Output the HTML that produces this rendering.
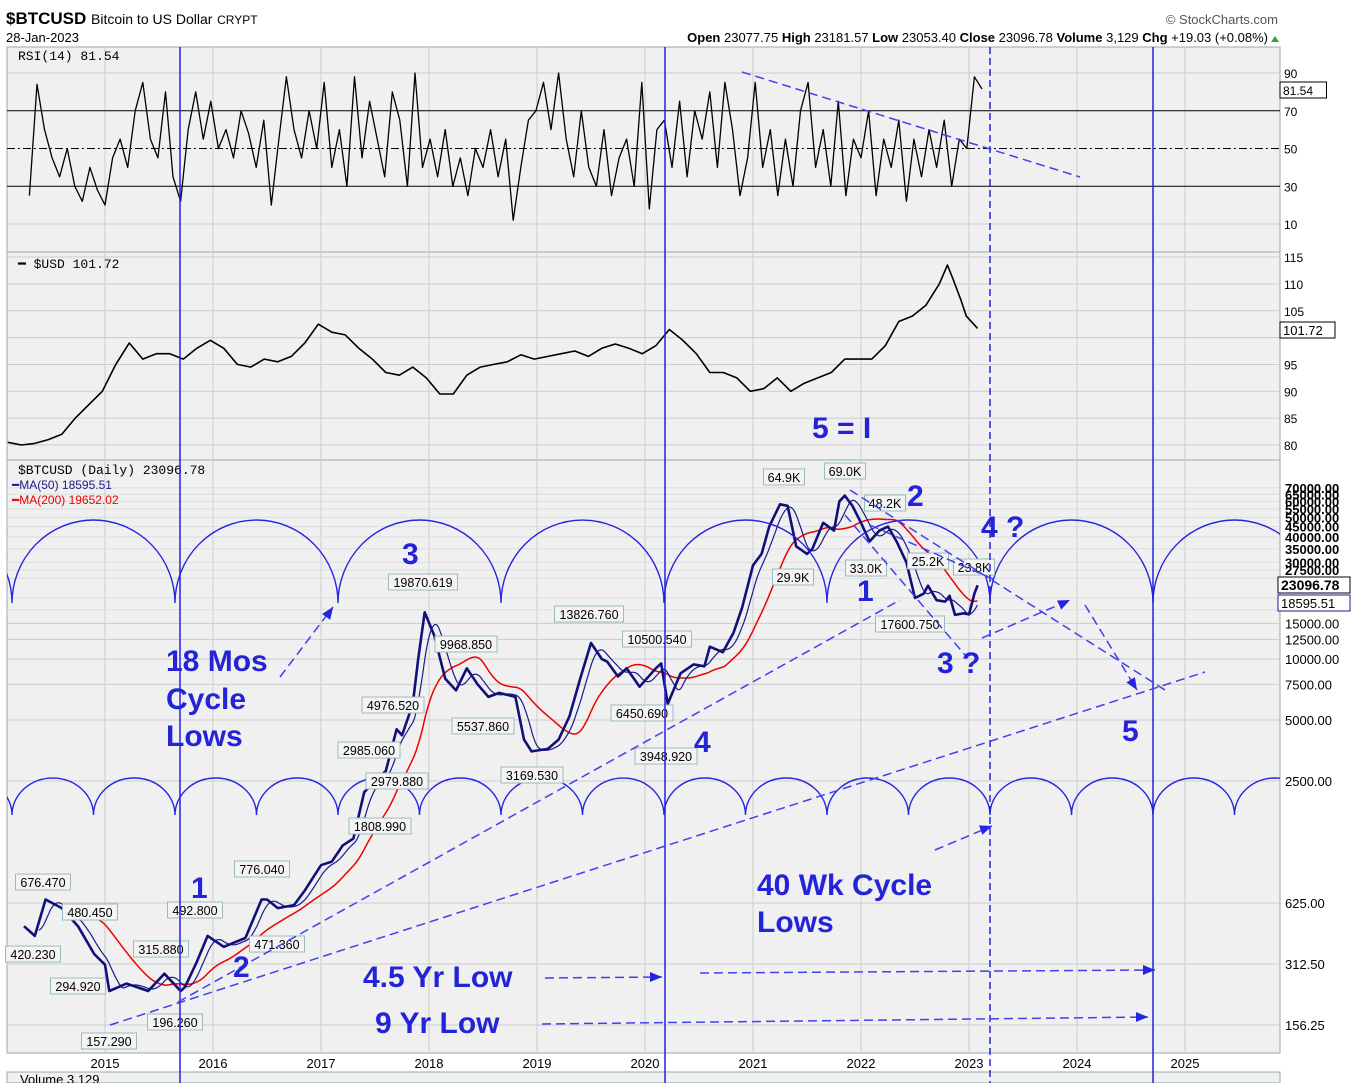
<!DOCTYPE html>
<html><head><meta charset="utf-8">
<style>
body{margin:0;background:#fff;font-family:"Liberation Sans",sans-serif;}
svg{display:block}
</style></head>
<body>
<svg id="c" width="1361" height="1083" xmlns="http://www.w3.org/2000/svg" font-family="Liberation Sans, sans-serif">
<defs><clipPath id="plotclip"><rect x="7" y="460" width="1273" height="593"/></clipPath></defs>
<rect x="0" y="0" width="1361" height="1083" fill="#fff"/>
<text x="6" y="24" font-size="17" font-weight="bold">$BTCUSD <tspan font-size="14" font-weight="normal">Bitcoin to US Dollar</tspan> <tspan font-size="12" font-weight="normal">CRYPT</tspan></text>
<text x="6" y="42" font-size="13">28-Jan-2023</text>
<text x="1278" y="24" font-size="13" fill="#555" text-anchor="end">© StockCharts.com</text>
<text x="1268" y="42" font-size="13" text-anchor="end"><tspan font-weight="bold">Open</tspan> 23077.75 <tspan font-weight="bold">High</tspan> 23181.57 <tspan font-weight="bold">Low</tspan> 23053.40 <tspan font-weight="bold">Close</tspan> 23096.78 <tspan font-weight="bold">Volume</tspan> 3,129 <tspan font-weight="bold">Chg</tspan> +19.03 (+0.08%)</text>
<polygon points="1271,42 1279,42 1275,36" fill="#2a2"/>
<g id="panels"></g>
<g id="marks"></g>
<g id="arcs" clip-path="url(#plotclip)"></g>
<g id="anno"></g>
</svg>
<script>
const NS='http://www.w3.org/2000/svg';
// ---- data ----
const yearTicks=['2015','2016','2017','2018','2019','2020','2021','2022','2023','2024','2025'];
const rsiTicks=[90,70,50,30,10];
const usdTicks=[115,110,105,100,95,90,85,80];
const btcTicks=[156.25,312.5,625,2500,5000,7500,10000,12500,15000];
const rsiStart=2014.3, rsiStep=0.07;
const rsiValues=[25,84,60,45,35,50,30,22,40,28,20,45,55,40,70,85,55,45,80,35,22,60,80,55,75,50,60,45,70,58,40,65,20,55,88,60,45,70,50,85,40,60,30,88,45,75,55,35,80,65,30,90,40,55,35,60,30,45,25,50,40,60,35,55,12,40,65,70,85,60,90,55,35,70,40,30,60,25,45,55,30,85,18,60,65,40,75,35,70,55,80,40,85,60,25,45,85,40,60,25,55,30,70,85,40,60,30,75,25,55,45,70,25,55,40,65,22,55,35,60,40,65,30,55,50,88,81.54];
const usdDates=[2014.1,2014.225,2014.35,2014.475,2014.6,2014.725,2014.85,2014.975,2015.1,2015.225,2015.35,2015.475,2015.6,2015.725,2015.85,2015.975,2016.1,2016.225,2016.35,2016.475,2016.6,2016.725,2016.85,2016.975,2017.1,2017.225,2017.35,2017.475,2017.6,2017.725,2017.85,2017.975,2018.1,2018.225,2018.35,2018.475,2018.6,2018.725,2018.85,2018.975,2019.1,2019.225,2019.35,2019.475,2019.6,2019.725,2019.85,2019.975,2020.1,2020.225,2020.35,2020.475,2020.6,2020.725,2020.85,2020.975,2021.1,2021.225,2021.35,2021.475,2021.6,2021.725,2021.85,2021.975,2022.1,2022.225,2022.35,2022.475,2022.6,2022.725,2022.8,2022.85,2022.925,2022.975,2023.08];
const usdValues=[80.5,80,80.3,81,82,85,87.5,90,95,99,96,97,97,96,98,99.5,98,95,94.5,96,95.5,96.5,99,102.5,101,100.5,98,96,93.5,93,94.5,92.5,89.5,89.5,93,94.5,95,95.5,96.8,96,96.5,97,97.5,96.5,98,98.8,98,97,98.5,101.5,99.5,97,93.5,93.5,92.5,90,90.5,92.5,90,91.5,92.5,93.5,96,96,96,98.5,103,104,106,110,113.5,111,107,104,101.72];
const btcDates=[2014.25,2014.35,2014.45,2014.6,2014.75,2014.9,2015.0,2015.04,2015.2,2015.4,2015.55,2015.7,2015.74,2015.85,2015.95,2016.1,2016.3,2016.45,2016.5,2016.6,2016.75,2016.85,2017.0,2017.1,2017.2,2017.3,2017.4,2017.5,2017.6,2017.7,2017.75,2017.85,2017.9,2017.96,2018.05,2018.15,2018.25,2018.35,2018.45,2018.55,2018.65,2018.8,2018.88,2018.95,2019.1,2019.2,2019.3,2019.4,2019.5,2019.6,2019.65,2019.75,2019.83,2019.95,2020.1,2020.15,2020.21,2020.33,2020.45,2020.55,2020.6,2020.72,2020.82,2020.9,2021.0,2021.08,2021.15,2021.25,2021.32,2021.4,2021.5,2021.55,2021.65,2021.75,2021.8,2021.85,2021.92,2022.0,2022.08,2022.17,2022.25,2022.33,2022.42,2022.5,2022.58,2022.62,2022.7,2022.78,2022.82,2022.87,2022.95,2023.0,2023.05,2023.08];
const btcValues=[480,430,650,590,480,350,310,230,250,230,280,230,240,320,430,380,420,650,650,590,610,720,960,1000,1200,1300,2200,2500,2800,4500,4200,6000,10000,17000,13000,8000,7000,9000,7500,6500,6800,6500,4000,3500,3600,4000,5200,8000,12000,10000,9700,8200,9000,7300,9000,9500,6000,8500,9400,9200,11500,10800,13500,18000,29000,33000,45000,58000,57000,36000,33000,35000,47000,43000,60000,64000,57000,47000,38000,43000,45000,38000,30000,20000,21000,23000,19500,19200,20500,16500,16800,16600,21000,23096.78];
const calloutText=['676.470','480.450','420.230','294.920','157.290','196.260','315.880','492.800','776.040','471.360','1808.990','2979.880','2985.060','4976.520','19870.619','9968.850','5537.860','3169.530','13826.760','10500.540','6450.690','3948.920','64.9K','69.0K','48.2K','29.9K','33.0K','25.2K','23.8K','17600.750'];
const calloutPos=[[43,882],[90,912],[33,954],[78,986],[109,1041],[175,1022],[161,949],[195,910],[262,869],[277,944],[380,826],[397,781],[369,750],[393,705],[423,582],[466,644],[483,726],[532,775],[589,614],[657,639],[642,713],[666,756],[784,477],[845,471],[885,503],[793,577],[866,568],[928,561],[974,567],[910,624]];
// ---- scales ----
const L=7,R=1280;
const X=t=>105+108*(t-2015);
const yR=v=>224-(v-10)*1.8875;
const yU=v=>445-(v-80)*5.37;
const yB=v=>1025-61*Math.log2(v/156.25);
function el(tag,attrs,parent){const e=document.createElementNS(NS,tag);for(const k in attrs)e.setAttribute(k,attrs[k]);(parent||document.getElementById('marks')).appendChild(e);return e;}
const P=document.getElementById('panels'),M=document.getElementById('marks'),A=document.getElementById('anno'),AR=document.getElementById('arcs');
const panels=[[47,252],[252,460],[460,1053],[1072,1083]];
panels.forEach((p,i)=>{const r=el('rect',{x:L,y:p[0],width:R-L,height:p[1]-p[0],fill:'#f0f0f0',stroke:'#9aa',"stroke-width":1},P);

});
yearTicks.forEach((y,i)=>{const x=X(2015+i);
 el('line',{x1:x,x2:x,y1:47,y2:1053,stroke:'#ccc'},P);
 const t=el('text',{x:x,y:1068,"font-size":13,"text-anchor":"middle"},P);t.textContent=y;
 
 });
rsiTicks.forEach(v=>{const y=yR(v);
 el('line',{x1:L,x2:R,y1:y,y2:y,stroke:(v==70||v==30||v==50)?'#000':'#ccc',"stroke-dasharray":v==50?'8,3,2,3':'none'},P);
 const t=el('text',{x:1284,y:y+5,"font-size":12},P);t.textContent=v;
 
 });
usdTicks.forEach(v=>{const y=yU(v);el('line',{x1:L,x2:R,y1:y,y2:y,stroke:'#ccc'},P);
 if(v==100)return;const t=el('text',{x:1284,y:y+5,"font-size":12},P);t.textContent=v;
 
 });
btcTicks.forEach(v=>{const y=yB(v);el('line',{x1:L,x2:R,y1:y,y2:y,stroke:'#ccc'},P);
 const t=el('text',{x:1285,y:y+5,"font-size":13},P);t.textContent=v.toFixed(2);
 
 });
[17500,20000,25000,27500,30000,35000,40000,45000,50000,55000,60000,65000,70000].forEach((v,i)=>{const y=yB(v);el('line',{x1:L,x2:R,y1:y,y2:y,stroke:'#ddd'},P);
 if(v>=27500){const t=el('text',{x:1285,y:y+5,"font-size":13,"font-weight":"bold"},P);t.textContent=v.toFixed(2);
 
 }});
[[12,60,'RSI(14) 81.54'],[12,268,'━ $USD 101.72'],[12,474,'$BTCUSD (Daily) 23096.78']].forEach(a=>{const t=el('text',{x:a[0]+6,y:a[1],"font-size":13,"font-family":"Liberation Mono, monospace"},P);t.textContent=a[2];
 
 });
let t1=el('text',{x:12,y:489,"font-size":12,fill:'#1a1a8c'},P);t1.textContent='━MA(50) 18595.51';


let t2=el('text',{x:12,y:504,"font-size":12,fill:'#e00'},P);t2.textContent='━MA(200) 19652.02';


let t3=el('text',{x:20,y:1084,"font-size":13},P);t3.textContent='Volume 3,129';


function line(xs,ys,stroke,w,name){const d=xs.map((x,i)=>(i?'L':'M')+x.toFixed(1)+','+ys[i].toFixed(1)).join('');const p=el('path',{d:d,fill:'none',stroke:stroke,"stroke-width":w,"stroke-linejoin":"round"});
 
 return p;}
line(rsiValues.map((v,i)=>X(rsiStart+i*rsiStep)),rsiValues.map(yR),'#000',1.3,'rsi-line');
line(usdDates.map(X),usdValues.map(yU),'#000',1.6,'usd-line');
function interp(t){for(let i=1;i<btcDates.length;i++){if(t<=btcDates[i]){const f=(t-btcDates[i-1])/(btcDates[i]-btcDates[i-1]);return btcValues[i-1]+f*(btcValues[i]-btcValues[i-1]);}}return btcValues[btcValues.length-1];}
const days=[];for(let t=btcDates[0];t<=btcDates[btcDates.length-1]+1e-9;t+=1/365)days.push(t);
const dv=days.map(interp);
function ma(n){const xs=[],ys=[];for(let i=n;i<dv.length;i++){let s=0;for(let j=i-n;j<i;j++)s+=dv[j];xs.push(X(days[i]));ys.push(yB(s/n));}return [xs,ys];}
const m200=ma(200),m50=ma(50);
line(m200[0],m200[1],'#e00',1.5,'ma200-line');
line(m50[0],m50[1],'#1a1a8c',1.2,'ma50-line');
line(btcDates.map(X),btcValues.map(yB),'#10107a',2.6,'btc-price-line');
calloutText.forEach((s,i)=>{const [cx,cy]=calloutPos[i];const w=s.length*7+6;
 const r=el('rect',{x:cx-w/2,y:cy-8,width:w,height:16,fill:'#f4f4f4',stroke:'#9bb'},A);
 
 
 const t=el('text',{x:cx,y:cy+5,"font-size":12.5,"text-anchor":"middle"},A);t.textContent=s;
 
 });
[[1280,90,'81.54',12,'#000'],[1280,330,'101.72',13,'#000'],[1278,585,'23096.78',14,'#000'],[1278,603,'18595.51',13,'#1a1a8c']].forEach(a=>{
 const r=el('rect',{x:a[0],y:a[1]-8,width:a[2].length*8.5+4,height:16,fill:'#fff',stroke:a[4]},A);
 
 
 const t=el('text',{x:a[0]+3,y:a[1]+5,"font-size":a[3],"font-weight":a[3]>13?'bold':'normal'},A);t.textContent=a[2];
 
 });
function arcs(y0,h,step,cusps,name){let d='';cusps.forEach(c=>{d+='M'+c+','+y0+' A'+(step/2)+','+h+' 0 0 1 '+(c+step)+','+y0;});const p=el('path',{d:d,fill:'none',stroke:'#2525e0',"stroke-width":1.4},AR);
 
 }
arcs(603,83,163,[-151,12,175,338,501,664,827,990,1153,1316],'cycle-18mo-arcs');
arcs(815,37,81.5,Array.from({length:17},(_,i)=>12-81.5+81.5*i),'cycle-40wk-arcs');
[[180,0],[665,0],[1153,0],[990,1]].forEach(a=>{const l=el('line',{x1:a[0],x2:a[0],y1:47,y2:1083,stroke:'#2222dd',"stroke-width":1.5,"stroke-dasharray":a[1]?'7,4':'none'},A);
 
 });
[[742,72,1080,177],[110,1025,1205,672],[178,1002,900,600],[850,490,1165,690],[870,525,995,580],[845,515,965,655],[982,638,1070,600],[280,677,333,607],[935,850,992,826],[545,978,662,977],[700,973,1155,970],[542,1024,1148,1017],[1085,605,1137,690]].forEach(a=>{
 const l=el('line',{x1:a[0],y1:a[1],x2:a[2],y2:a[3],stroke:'#4040ee',"stroke-width":1.5,"stroke-dasharray":'9,5'},A);
 
 });
[[333,607,-55],[992,826,-20],[662,977,0],[1155,970,0],[1148,1017,0],[1070,600,-25],[1137,690,58]].forEach(a=>{
 const p=el('polygon',{points:'0,0 -12,-5 -12,5',fill:'#2525e0',transform:'translate('+a[0]+','+a[1]+') rotate('+a[2]+')'},A);
 
 });
[[812,438,'5 = I'],[402,564,'3'],[166,671,'18 Mos'],[166,709,'Cycle'],[166,746,'Lows'],[191,898,'1'],[233,977,'2'],[694,752,'4'],[857,601,'1'],[907,506,'2'],[981,537,'4 ?'],[937,673,'3 ?'],[1122,741,'5'],[757,895,'40 Wk Cycle'],[757,932,'Lows'],[363,987,'4.5 Yr Low'],[375,1033,'9 Yr Low']].forEach(a=>{
 const t=el('text',{x:a[0],y:a[1],"font-size":30,"font-weight":"bold",fill:'#2323d8'},A);t.textContent=a[2];
 
 });
</script>
</body></html>
